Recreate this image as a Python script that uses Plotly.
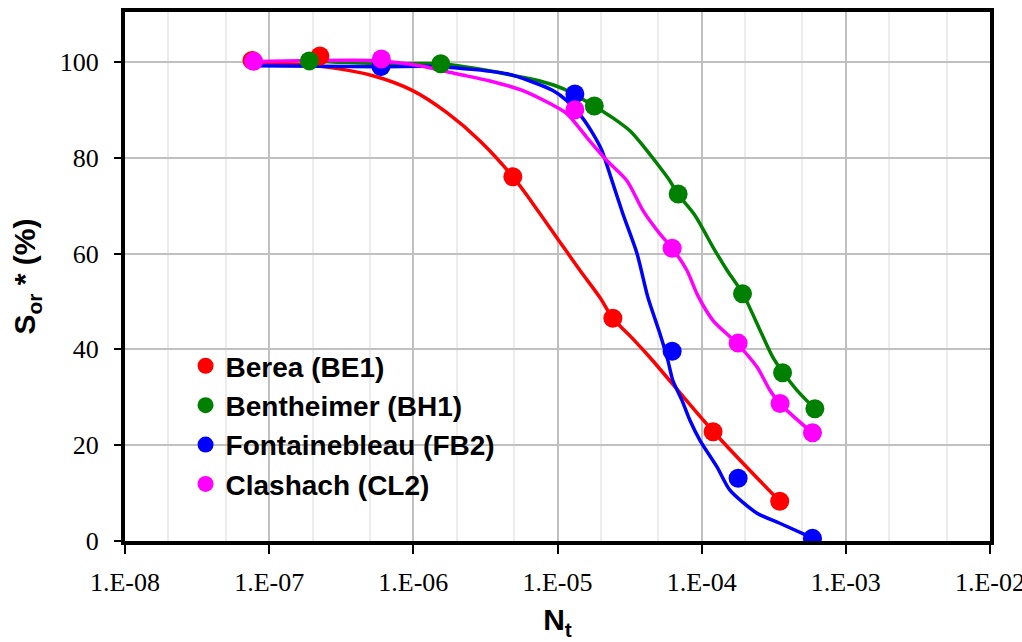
import plotly.graph_objects as go

# ---- data ----
names = ["Berea (BE1)", "Bentheimer (BH1)", "Fontainebleau (FB2)", "Clashach (CL2)"]
colors = ["#ff0000", "#008000", "#0000ff", "#ff00ff"]

# measured points
be_pts_n = [7.6e-8, 2.25e-7, 4.9e-6, 2.42e-5, 1.2e-4, 3.48e-4]
be_pts_s = [100.3, 101.2, 76.0, 46.5, 22.8, 8.3]
bh_pts_n = [1.9e-7, 1.55e-6, 1.8e-5, 6.87e-5, 1.92e-4, 3.64e-4, 6.1e-4]
bh_pts_s = [100.2, 99.6, 90.8, 72.4, 51.6, 35.1, 27.6]
fb_pts_n = [5.96e-7, 1.32e-5, 6.24e-5, 1.79e-4, 5.87e-4]
fb_pts_s = [99.0, 93.3, 39.6, 13.1, 0.55]
cl_pts_n = [7.8e-8, 6.0e-7, 1.32e-5, 6.24e-5, 1.79e-4, 3.5e-4, 5.87e-4]
cl_pts_s = [100.1, 100.6, 90.0, 61.1, 41.3, 28.7, 22.6]

# fitted curves
be_crv_n = [7.6e-8, 2.36e-7, 5.25e-7, 9.9e-7, 1.71e-6, 2.9e-6, 4.91e-6,
            6.75e-6, 9.9e-6, 1.43e-5, 1.97e-5, 2.42e-5, 3.33e-5, 4.38e-5, 1.2e-4, 3.48e-4]
be_crv_s = [100, 99, 97.1, 94, 89.4, 83.5, 76, 70.4, 63.3, 56.5, 50.8, 46.5,
            42.2, 38.3, 22.9, 8.3]
bh_crv_n = [1.89e-7, 6.89e-7, 1.55e-6, 2.59e-6, 4.46e-6, 7.55e-6, 1.09e-5, 1.79e-5,
            2.42e-5, 3.18e-5, 4.04e-5, 5.13e-5, 6.01e-5, 6.84e-5, 8.97e-5, 1.2e-4,
            1.5e-4, 1.93e-4, 2.54e-4, 3.12e-4, 3.66e-4, 4.57e-4, 6.1e-4]
bh_crv_s = [100.2, 99.6, 99.6, 98.7, 97.4, 96, 94.4, 90.8, 88.3, 85.6, 82, 78, 75.2,
            72.4, 68, 61.3, 56.5, 51.6, 44, 38.3, 35.2, 31.5, 27.6]
fb_crv_n = [7.6e-8, 5.96e-7, 1.53e-6, 4.46e-6, 6.44e-6, 9.29e-6, 1.16e-5, 1.48e-5,
            1.76e-5, 2.03e-5, 2.34e-5, 2.84e-5, 3.56e-5, 4.24e-5, 5.13e-5, 5.83e-5,
            6.31e-5, 7.29e-5, 8.29e-5, 9.73e-5, 1.28e-4, 1.57e-4, 2.42e-4, 3.48e-4, 5.9e-4]
fb_crv_s = [99.2, 99, 99, 97.5, 96, 94, 91.9, 88.4, 85, 81.5, 76, 68.3, 60, 50.8,
            43.3, 37.7, 33.5, 29.4, 25.2, 21, 15.4, 10.6, 5.8, 3.7, 0.6]
cl_crv_n = [7.85e-8, 5.96e-7, 1.11e-6, 2.0e-6, 3.4e-6, 5.75e-6, 8.85e-6, 1.16e-5,
            1.6e-5, 2.2e-5, 3.03e-5, 3.91e-5, 5.13e-5, 6.22e-5, 7.89e-5, 9.41e-5,
            1.2e-4, 1.75e-4, 2.42e-4, 2.97e-4, 3.48e-4, 5.9e-4]
cl_crv_s = [100, 100.2, 99.2, 97.5, 96, 94, 91.3, 89.2, 84.2, 79.4, 75.2, 69, 64.1,
            61.2, 56.5, 51.2, 46, 41.3, 36.3, 31.5, 28.7, 22.5]

x_tickvals = [1e-8, 1e-7, 1e-6, 1e-5, 1e-4, 1e-3, 1e-2]
x_ticktext = ["1.E-08", "1.E-07", "1.E-06", "1.E-05", "1.E-04", "1.E-03", "1.E-02"]
y_tickvals = [0, 20, 40, 60, 80, 100]

curves = [(be_crv_n, be_crv_s), (bh_crv_n, bh_crv_s), (fb_crv_n, fb_crv_s), (cl_crv_n, cl_crv_s)]
points = [(be_pts_n, be_pts_s), (bh_pts_n, bh_pts_s), (fb_pts_n, fb_pts_s), (cl_pts_n, cl_pts_s)]
smooth = [1.0, 0.8, 0.7, 0.8]

fig = go.Figure()
for (cx, cy), col, sm in zip(curves, colors, smooth):
    fig.add_trace(go.Scatter(x=cx, y=cy, mode="lines",
                             line=dict(color=col, width=3.5, shape="spline", smoothing=sm),
                             showlegend=False, hoverinfo="skip"))
for i, ((px, py), col, nm) in enumerate(zip(points, colors, names)):
    fig.add_trace(go.Scatter(x=px, y=py, mode="markers", name="<b>" + nm + "</b>",
                             legendgroup=str(i),
                             marker=dict(color=col, size=19, line=dict(width=0))))

serif = "Liberation Serif"
sans = "Liberation Sans"
axis_font = dict(family=serif, size=26, color="black")
title_font = dict(family=sans, size=30, color="black")

# white backing for the legend box (drawn above the grid, below the traces)
fig.add_shape(type="rect", xref="paper", yref="paper", x0=0.037, x1=0.481, y0=0.072, y1=0.371,
              fillcolor="white", line=dict(width=0), layer="between")

fig.update_layout(
    width=1022, height=642,
    margin=dict(l=125, r=32, t=12, b=101),
    paper_bgcolor="white", plot_bgcolor="white",
    showlegend=True,
    legend=dict(x=0.07, y=0.378, xanchor="left", yanchor="top", bgcolor="rgba(0,0,0,0)",
                borderwidth=0, font=dict(family=sans, size=28, color="black"),
                tracegroupgap=0, itemsizing="trace"),
    xaxis=dict(type="log", range=[-8, -2], tickvals=x_tickvals, ticktext=x_ticktext,
               tickfont=axis_font, ticks="outside", ticklen=9, tickwidth=2, tickcolor="black",
               ticklabelstandoff=6, ticklabeloverflow="allow", automargin=False,
               showline=True, linecolor="black", linewidth=4, mirror=True,
               showgrid=True, gridcolor="#c0c0c0", gridwidth=2,
               minor=dict(showgrid=True, gridcolor="#ececec", gridwidth=2, ticks=""),
               zeroline=False,
               title=dict(text="<b>N<sub>t</sub></b>", font=title_font, standoff=14)),
    yaxis=dict(range=[0, 110.4], tickvals=y_tickvals, tickfont=axis_font,
               ticks="outside", ticklen=7, tickwidth=2, tickcolor="black",
               ticklabelstandoff=10, automargin=False,
               showline=True, linecolor="black", linewidth=4, mirror=True,
               showgrid=True, gridcolor="#c0c0c0", gridwidth=2, zeroline=False,
               title=dict(text="<b>S<sub>or</sub> * (%)</b>", font=title_font, standoff=16)),
)
fig.write_html("out.html")
